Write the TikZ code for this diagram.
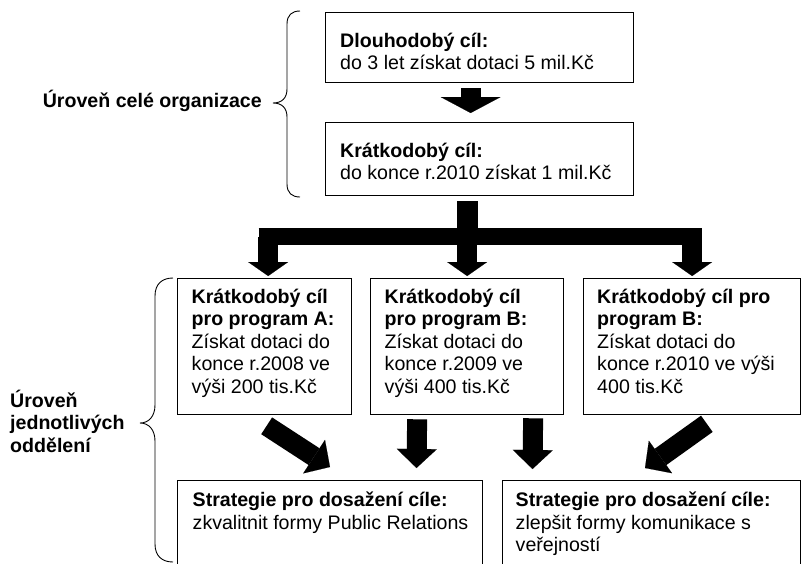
\documentclass[tikz,border=0pt]{standalone}
\usepackage{fontspec}
\setmainfont{Liberation Sans}
\usetikzlibrary{arrows.meta,calc}

\begin{document}
\begin{tikzpicture}[x=1pt,y=-1pt,
  box/.style={draw=black, line width=1.3pt, rectangle, inner sep=0pt, anchor=north west},
  txt/.style={anchor=north west, inner sep=0pt, align=left,
              font=\fontsize{19.6}{22.5}\selectfont},
  lvl/.style={inner sep=0pt, align=left,
              font=\bfseries\fontsize{19.6}{22.5}\selectfont},
  bracket/.style={line width=0.9pt, draw=black},
  mainarrow/.style={draw=black, line width=20pt,
              -{Triangle[width=60pt,length=16pt,line width=0.1pt]}},
  forkarrow/.style={draw=black, line width=20pt,
              -{Triangle[width=40pt,length=14pt,line width=0.1pt]}},
  lowarrow/.style={draw=black, line width=20pt,
              -{Triangle[width=40pt,length=19pt,line width=0.1pt]}},
  forkbar/.style={draw=black, line width=17pt},
  forkstem/.style={draw=black, line width=21pt},
]
\useasboundingbox (0,0) rectangle (801,563);

% organisation-level goals
\node[box, minimum width=308pt, minimum height=70pt] (k1) at (325,12) {};
\node[box, minimum width=308pt, minimum height=73pt] (k2) at (325,122) {};
\node[txt] (t1) at ($(k1.north west)+(15,17)$)
  {\rule{0pt}{18pt}\textbf{Dlouhodobý cíl:}\\do 3 let získat dotaci 5 mil.Kč};
\node[txt] (t2) at ($(k2.north west)+(15,17)$)
  {\rule{0pt}{18pt}\textbf{Krátkodobý cíl:}\\do konce r.2010 získat 1 mil.Kč};

% department-level goals
\node[box, minimum width=174pt, minimum height=136pt] (pa) at (177,278) {};
\node[box, minimum width=193pt, minimum height=136pt] (pb) at (370,278) {};
\node[box, minimum width=217pt, minimum height=136pt] (pc) at (583,278) {};
\node[txt] (ta) at ($(pa.north west)+(14.5,7)$)
  {\rule{0pt}{18pt}\textbf{Krátkodobý cíl}\\\textbf{pro program A:}\\Získat dotaci do\\konce r.2008 ve\\výši 200 tis.Kč};
\node[txt] (tb) at ($(pb.north west)+(14.5,7)$)
  {\rule{0pt}{18pt}\textbf{Krátkodobý cíl}\\\textbf{pro program B:}\\Získat dotaci do\\konce r.2009 ve\\výši 400 tis.Kč};
\node[txt] (tc) at ($(pc.north west)+(14,7)$)
  {\rule{0pt}{18pt}\textbf{Krátkodobý cíl pro}\\\textbf{program B:}\\Získat dotaci do\\konce r.2010 ve výši\\400 tis.Kč};

% strategies
\node[box, minimum width=305pt, minimum height=100pt] (s1) at (177,480) {};
\node[box, minimum width=298pt, minimum height=100pt] (s2) at (502,480) {};
\node[txt] (ts1) at ($(s1.north west)+(15.5,8.5)$)
  {\rule{0pt}{18pt}\textbf{Strategie pro dosažení cíle:}\\zkvalitnit formy Public Relations};
\node[txt] (ts2) at ($(s2.north west)+(13.5,8.5)$)
  {\rule{0pt}{18pt}\textbf{Strategie pro dosažení cíle:}\\zlepšit formy komunikace s\\veřejností};

% level labels and their braces
\node[lvl, anchor=base east] (lv1) at (262,107) {Úroveň celé organizace};
\node[lvl, anchor=north west] (lv2) at (10,389) {\rule{0pt}{18pt}Úroveň\\jednotlivých\\oddělení};

\draw[bracket] (300,11) .. controls (292,11) and (287,15) .. (287,24)
  -- (287,89) .. controls (287,98) and (282,103) .. (273,103)
  .. controls (282,103) and (287,108) .. (287,117)
  -- (287,184) .. controls (287,193) and (292,197) .. (300,197);
\draw[bracket] (173,278) .. controls (162,278) and (155,284) .. (155,296)
  -- (155,405) .. controls (155,416) and (149,423) .. (140,423)
  .. controls (149,423) and (155,430) .. (155,441)
  -- (155,544) .. controls (155,556) and (162,562) .. (173,562);

% long-term to short-term goal
\draw[mainarrow] ($(k1.south)+(-9,5)$) -- ($(k2.north)+(-9,-9)$);

% fork from the short-term goal to the three programmes
\coordinate (fork) at ($(k2.south)+(-12,40.5)$);
\coordinate (da) at ($(pa.north)+(3.5,-2)$);
\coordinate (db) at ($(pb.north)+(0,-2)$);
\coordinate (dc) at ($(pc.north)+(0,-2)$);
\draw[forkstem] ($(k2.south)+(-12,5)$) -- (fork);
\draw[forkbar, shorten <=-9.5pt, shorten >=-9.5pt] (fork -| da) -- (fork -| dc);
\draw[forkarrow] (fork -| da) -- (da);
\draw[forkarrow] (fork -| db) -- (db);
\draw[forkarrow] (fork -| dc) -- (dc);

% programmes to strategies
\draw[lowarrow] ($(pa.south)+(2,10.5)$) -- ($(s1.north west)+(153,-13)$);
\draw[lowarrow] ($(pb.south)+(-50,4)$) -- ($(s1.north west)+(239.5,-12)$);
\draw[lowarrow] ($(pb.south)+(66,3)$) -- ($(s2.north west)+(30.5,-11)$);
\draw[lowarrow] ($(pc.south)+(14.7,8.5)$) -- ($(s2.north west)+(143,-12)$);
\end{tikzpicture}
\end{document}
